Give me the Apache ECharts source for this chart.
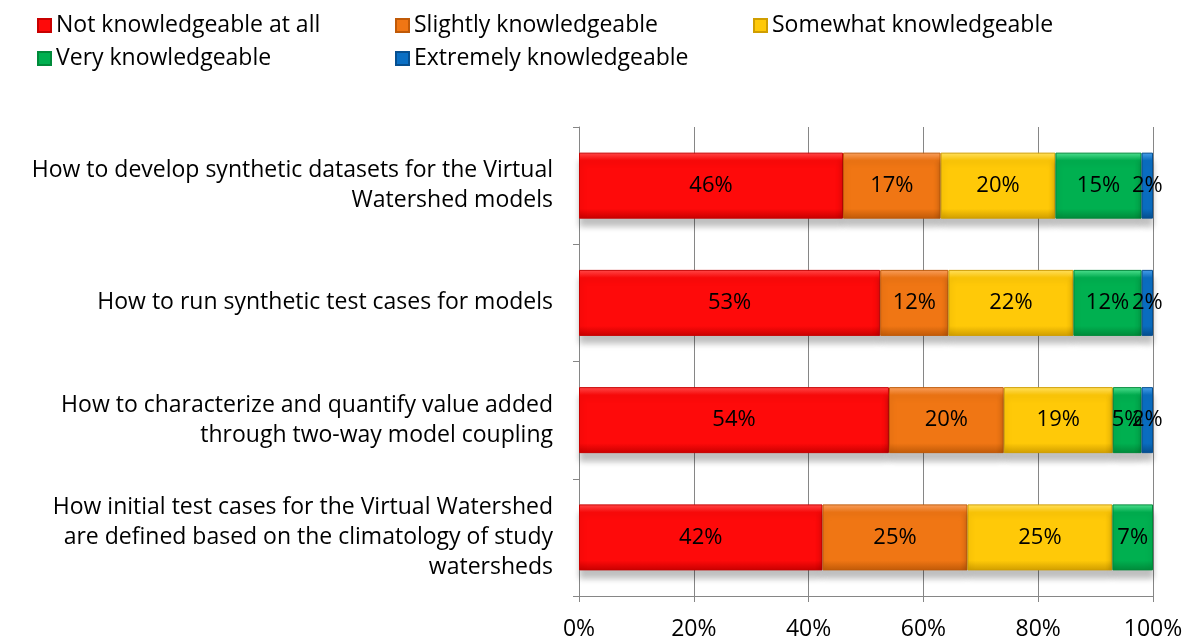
<!DOCTYPE html>
<html>
<head>
<meta charset="utf-8">
<script src="https://cdn.jsdelivr.net/npm/echarts@6/dist/echarts.min.js"></script>
<style>
  html, body { margin: 0; padding: 0; background: #fff; }
  #main { width: 1189px; height: 643px; }
</style>
</head>
<body>
<div id="main"></div>
<script>
// categories, top to bottom
var categories = [
  'How to develop synthetic datasets for the Virtual\nWatershed models',
  'How to run synthetic test cases for models',
  'How to characterize and quantify value added\nthrough two-way model coupling',
  'How initial test cases for the Virtual Watershed\nare defined based on the climatology of study\nwatersheds'
]
var seriesNames = ['Not knowledgeable at all', 'Slightly knowledgeable', 'Somewhat knowledgeable',
  'Very knowledgeable', 'Extremely knowledgeable']
// percent labels as shown, per category
var notAtAll = [46, 53, 54, 42]
var slightly = [17, 12, 20, 25]
var somewhat = [20, 22, 19, 25]
var very = [15, 12, 5, 7]
var extremely = [2, 2, 2, 0]
var xTicks = [0, 20, 40, 60, 80, 100]

var colors = [
  ['#ff4a4a', '#fe0a0a', '#c80000'],
  ['#f8a060', '#f07614', '#c05a08'],
  ['#ffe060', '#ffc908', '#d09e00'],
  ['#50e090', '#00b050', '#008a3a'],
  ['#4aa0ea', '#0a6fc4', '#064f90']
]

var raw = [notAtAll, slightly, somewhat, very, extremely]
// 100% stacked: each bar is shown as share of its row total
var totals = categories.map(function (c, i) {
  return raw.reduce(function (s, arr) { return s + arr[i] }, 0)
})

var font = '"Open Sans", "Noto Sans", sans-serif'

var series = raw.map(function (arr, k) {
  return {
    name: seriesNames[k],
    type: 'bar',
    stack: 'all',
    barWidth: 66,
    data: arr.map(function (v, i) {
      return { value: v === 0 ? null : v / totals[i] * 100, raw: v }
    }),
    itemStyle: {
      color: new echarts.graphic.LinearGradient(0, 0, 0, 1, [
        { offset: 0, color: colors[k][0] },
        { offset: 0.12, color: colors[k][1] },
        { offset: 0.85, color: colors[k][1] },
        { offset: 1, color: colors[k][2] }
      ]),
      borderColor: colors[k][2],
      borderWidth: 1,
      shadowColor: 'rgba(0,0,0,0.25)',
      shadowBlur: 6,
      shadowOffsetY: 8
    },
    label: {
      show: true,
      position: 'inside',
      color: '#000',
      fontFamily: font,
      fontSize: 22,
      formatter: function (p) { return p.data.raw + '%' }
    }
  }
})

// legend in two rows with aligned columns
function legendRow(names, top) {
  return {
    left: 32,
    top: top,
    itemWidth: 13,
    itemHeight: 13,
    itemGap: 5,
    icon: 'rect',
    formatter: function (name) { return '{t|' + name + '}' },
    textStyle: {
      fontFamily: font,
      fontSize: 23,
      color: '#000',
      rich: {
        t: { fontFamily: font, fontSize: 23, color: '#000', width: 334, lineHeight: 28 }
      }
    },
    data: names
  }
}

var myChart = echarts.init(document.getElementById('main'))
var option = {
  animation: false,
  color: colors.map(function (c) { return c[1] }),
  legend: [
    legendRow(seriesNames.slice(0, 3), 9),
    legendRow(seriesNames.slice(3), 42)
  ],
  grid: { left: 579, right: 36, top: 127, bottom: 47 },
  xAxis: {
    type: 'value',
    min: 0,
    max: 100,
    interval: 20,
    axisLine: { show: true, lineStyle: { color: '#868686' } },
    axisTick: { show: true, length: 6, lineStyle: { color: '#868686' } },
    splitLine: { show: true, lineStyle: { color: '#868686', width: 1 } },
    axisLabel: {
      color: '#000',
      fontFamily: font,
      fontSize: 23,
      margin: 22,
      formatter: function (v) { return xTicks.indexOf(v) >= 0 ? v + '%' : '' }
    }
  },
  yAxis: {
    type: 'category',
    inverse: true,
    data: categories,
    axisLine: { show: true, lineStyle: { color: '#868686' } },
    axisTick: { show: true, length: 6, lineStyle: { color: '#868686' } },
    axisLabel: {
      color: '#000',
      fontFamily: font,
      fontSize: 23,
      lineHeight: 30,
      align: 'right',
      margin: 26
    }
  },
  series: series
}
option && myChart.setOption(option)
</script>
</body>
</html>
